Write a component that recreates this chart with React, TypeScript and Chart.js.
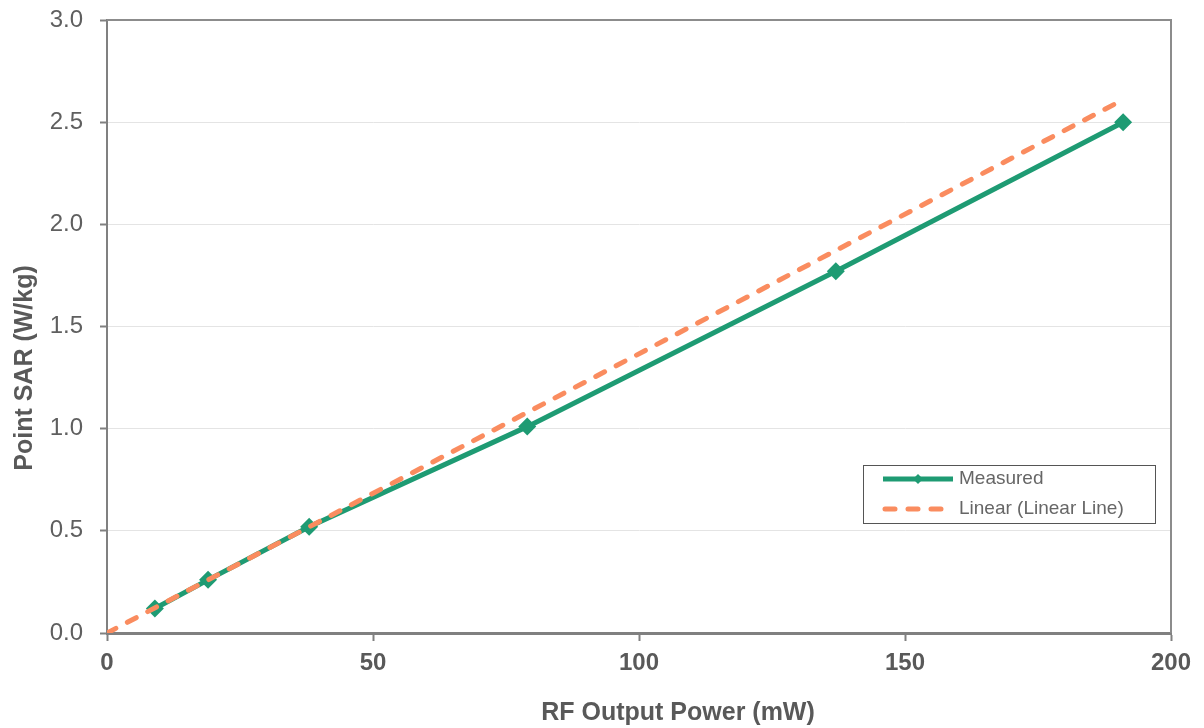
import React, { useEffect, useRef } from "react";
import { Chart, registerables } from "chart.js";

Chart.register(...registerables);

// ---- Data ----
const powerMW = [9, 19, 38, 79, 137, 191];
const pointSAR = [0.12, 0.26, 0.52, 1.01, 1.77, 2.5];
const linearX = [0, 191];
const linearY = [0, 2.61];
const seriesLabels = ["Measured", "Linear (Linear Line)"];
const xTitle = "RF Output Power (mW)";
const yTitle = "Point SAR (W/kg)";

const FONT = "'Liberation Sans', Arial, Helvetica, sans-serif";
const GREEN = "#1E9B73";
const ORANGE = "#FA8C5F";
const AXIS = "#808080";

const framePlugin = {
  id: "frame",
  beforeDatasetsDraw(chart: any) {
    const { ctx, chartArea: a } = chart;
    ctx.save();
    ctx.strokeStyle = "#8c8c8c";
    ctx.lineWidth = 2;
    ctx.beginPath();
    ctx.moveTo(a.left, a.top);
    ctx.lineTo(a.right, a.top);
    ctx.lineTo(a.right, a.bottom);
    ctx.stroke();
    ctx.restore();
  },
};

const titlesPlugin = {
  id: "titles",
  afterDraw(chart: any) {
    const { ctx } = chart;
    ctx.save();
    ctx.fillStyle = "#595959";
    ctx.font = `bold 25px ${FONT}`;
    ctx.textAlign = "center";
    ctx.textBaseline = "alphabetic";
    ctx.fillText(xTitle, 678, 720);
    ctx.translate(32, 368);
    ctx.rotate(-Math.PI / 2);
    ctx.fillText(yTitle, 0, 0);
    ctx.restore();
  },
};

const legendPlugin = {
  id: "customLegend",
  afterDraw(chart: any) {
    const { ctx } = chart;
    const ds = chart.data.datasets;
    const bx = 863, by = 465, bw = 292, bh = 58;
    ctx.save();
    ctx.fillStyle = "#ffffff";
    ctx.fillRect(bx, by, bw, bh);
    ctx.strokeStyle = "#555555";
    ctx.lineWidth = 1;
    ctx.strokeRect(bx + 0.5, by + 0.5, bw, bh);
    const rows = [479, 509];
    ds.forEach((d: any, i: number) => {
      const y = rows[i];
      ctx.save();
      ctx.strokeStyle = d.borderColor;
      ctx.lineWidth = 5;
      ctx.lineCap = i === 0 ? "butt" : "round";
      ctx.setLineDash(i === 0 ? [] : [10, 13]);
      ctx.beginPath();
      ctx.moveTo(i === 0 ? 883 : 885, y);
      ctx.lineTo(953, y);
      ctx.stroke();
      ctx.restore();
      if (i === 0) {
        ctx.fillStyle = d.borderColor;
        ctx.beginPath();
        ctx.moveTo(918, y - 5);
        ctx.lineTo(923, y);
        ctx.lineTo(918, y + 5);
        ctx.lineTo(913, y);
        ctx.closePath();
        ctx.fill();
      }
      ctx.fillStyle = "#666666";
      ctx.font = `19px ${FONT}`;
      ctx.textAlign = "left";
      ctx.textBaseline = "middle";
      ctx.fillText(d.label, 959, y);
    });
    ctx.restore();
  },
};

export default function App() {
  const ref = useRef<HTMLCanvasElement>(null);

  useEffect(() => {
    if (!ref.current) return;
    const chart = new Chart(ref.current, {
      type: "scatter",
      data: {
        datasets: [
          {
            label: seriesLabels[0],
            data: powerMW.map((x, i) => ({ x, y: pointSAR[i] })),
            showLine: true,
            borderColor: GREEN,
            backgroundColor: GREEN,
            borderWidth: 5,
            pointStyle: "rectRot",
            pointRadius: 9,
            pointBorderWidth: 0,
            order: 2,
          },
          {
            label: seriesLabels[1],
            data: linearX.map((x, i) => ({ x, y: linearY[i] })),
            showLine: true,
            borderColor: ORANGE,
            backgroundColor: ORANGE,
            borderWidth: 5,
            borderDash: [10, 13],
            borderCapStyle: "round",
            pointRadius: 0,
            order: 1,
          },
        ],
      },
      options: {
        responsive: false,
        animation: false,
        layout: { padding: { top: 20, right: 33, left: 0, bottom: 0 } },
        plugins: { legend: { display: false }, tooltip: { enabled: false } },
        scales: {
          x: {
            type: "linear",
            min: 0,
            max: 200,
            ticks: {
              stepSize: 50,
              color: "#595959",
              font: { family: FONT, size: 24, weight: "bold" },
              padding: 8,
              maxRotation: 0,
            },
            grid: {
              drawOnChartArea: false,
              tickLength: 8,
              tickColor: AXIS,
              tickWidth: 2,
            },
            border: { color: AXIS, width: 3 },
            afterFit(s: any) {
              s.height = 95;
              s.paddingLeft = 0;
              s.paddingRight = 0;
            },
          },
          y: {
            type: "linear",
            min: 0,
            max: 3,
            ticks: {
              stepSize: 0.5,
              color: "#5f5f5f",
              font: { family: FONT, size: 24 },
              padding: 17,
              callback: (v: any) => Number(v).toFixed(1),
            },
            grid: {
              color: "#e4e4e4",
              lineWidth: 1,
              tickLength: 7,
              tickColor: AXIS,
              tickWidth: 2,
            },
            border: { color: AXIS, width: 2 },
            afterFit(s: any) {
              s.width = 107;
              s.paddingTop = 0;
              s.paddingBottom = 0;
            },
          },
        },
      },
      plugins: [framePlugin, titlesPlugin, legendPlugin],
    } as any);
    return () => chart.destroy();
  }, []);

  return (
    <div style={{ position: "absolute", left: 0, top: 0, width: 1204, height: 728, background: "#fff" }}>
      <canvas ref={ref} width={1204} height={728} style={{ display: "block" }} />
    </div>
  );
}
